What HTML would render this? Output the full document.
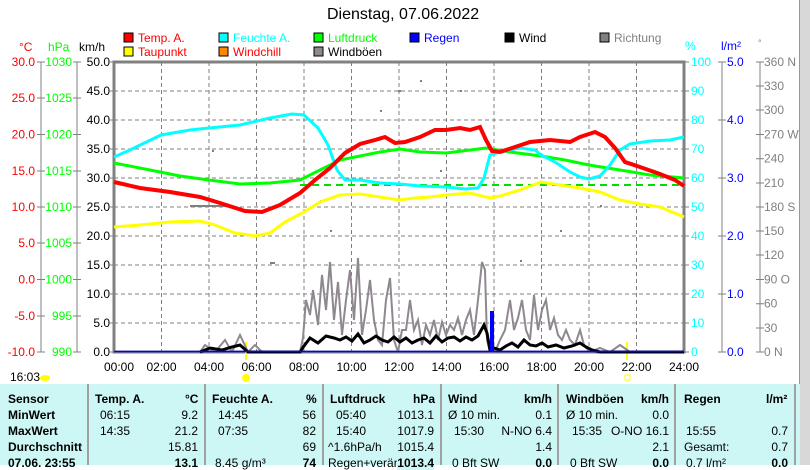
<!DOCTYPE html><html><head><meta charset="utf-8"><style>
body{margin:0;width:810px;height:465px;overflow:hidden;background:#fff;font-family:"Liberation Sans",sans-serif;position:relative}
.t{position:absolute;font-size:12px;white-space:nowrap}
.tb{position:absolute;left:0;top:384px;width:800px;height:81px;background:#cdf7f5}
.sep{position:absolute;top:384px;width:2px;height:81px;background:#a0a0a0}
.c{position:absolute;font-size:12px;white-space:nowrap}
.b{font-weight:bold}
</style></head><body>
<div class="t" style="left:327px;top:6px;font-size:16px">Dienstag, 07.06.2022</div>
<div style="position:absolute;left:799px;top:0;width:11px;height:465px;background:#d8d8d8;border-left:1px solid #999"></div>
<svg width="810" height="384" style="position:absolute;left:0;top:0" font-family="Liberation Sans" font-size="12">
<g stroke="#000" stroke-width="1">
<rect x="124" y="33" width="9" height="9" fill="#f00"/><rect x="124" y="47" width="9" height="9" fill="#ff0"/>
<rect x="219" y="33" width="9" height="9" fill="#0ff"/><rect x="219" y="47" width="9" height="9" fill="#f80"/>
<rect x="314" y="33" width="9" height="9" fill="#0f0"/><rect x="314" y="47" width="9" height="9" fill="#908890"/>
<rect x="410" y="33" width="9" height="9" fill="#00f"/><rect x="505" y="33" width="9" height="9" fill="#000"/>
<rect x="600" y="33" width="9" height="9" fill="#808080"/></g>
<text x="138" y="42" fill="#f00">Temp. A.</text><text x="138" y="56" fill="#f00">Taupunkt</text>
<text x="233" y="42" fill="#0ff">Feuchte A.</text><text x="233" y="56" fill="#f00">Windchill</text>
<text x="328" y="42" fill="#0f0">Luftdruck</text><text x="328" y="56">Windböen</text>
<text x="424" y="42" fill="#00f">Regen</text><text x="519" y="42">Wind</text><text x="614" y="42" fill="#808080">Richtung</text>
<text x="19" y="51" fill="#f00">°C</text><text x="48" y="51" fill="#0f0">hPa</text><text x="79" y="51">km/h</text>
<text x="685" y="50" fill="#0ff">%</text><text x="721" y="50" fill="#00f">l/m²</text><text x="758" y="46" fill="#808080" font-size="9">°</text>
<g stroke="#808080" stroke-dasharray="4,3" stroke-width="1">
<line x1="161.5" y1="62" x2="161.5" y2="352"/><line x1="209" y1="62" x2="209" y2="352"/><line x1="256.5" y1="62" x2="256.5" y2="352"/><line x1="304" y1="62" x2="304" y2="352"/><line x1="351.5" y1="62" x2="351.5" y2="352"/><line x1="399" y1="62" x2="399" y2="352"/><line x1="446.5" y1="62" x2="446.5" y2="352"/><line x1="494" y1="62" x2="494" y2="352"/><line x1="541.5" y1="62" x2="541.5" y2="352"/><line x1="589" y1="62" x2="589" y2="352"/><line x1="636.5" y1="62" x2="636.5" y2="352"/>
<line x1="114" y1="91" x2="684" y2="91"/><line x1="114" y1="120" x2="684" y2="120"/><line x1="114" y1="149" x2="684" y2="149"/><line x1="114" y1="178" x2="684" y2="178"/><line x1="114" y1="207" x2="684" y2="207"/><line x1="114" y1="236" x2="684" y2="236"/><line x1="114" y1="265" x2="684" y2="265"/><line x1="114" y1="294" x2="684" y2="294"/><line x1="114" y1="323" x2="684" y2="323"/>
</g>
<rect x="114" y="62" width="570" height="290" fill="none" stroke="#808080" stroke-width="3"/>
<g stroke="#808080"><line x1="41" y1="62" x2="41" y2="352"/><line x1="77" y1="62" x2="77" y2="352"/><line x1="722" y1="62" x2="722" y2="352"/><line x1="760" y1="62" x2="760" y2="352"/>
<path d="M37 62h8M37 98h8M37 134.5h8M37 171h8M37 207h8M37 243h8M37 279.5h8M37 316h8M37 352h8M73 62h8M73 98h8M73 134.5h8M73 171h8M73 207h8M73 243h8M73 279.5h8M73 316h8M73 352h8M110 62h4M110 91h4M110 120h4M110 149h4M110 178h4M110 207h4M110 236h4M110 265h4M110 294h4M110 323h4M110 352h4M684 62h5M684 91h5M684 120h5M684 149h5M684 178h5M684 207h5M684 236h5M684 265h5M684 294h5M684 323h5M684 352h5M718 62h8M718 120h8M718 178h8M718 236h8M718 294h8M718 352h8M756 62h8M756 86h8M756 110h8M756 134.5h8M756 158.7h8M756 183h8M756 207h8M756 231h8M756 255h8M756 279.5h8M756 303.7h8M756 328h8M756 352h8"/></g>
<g font-size="12" text-anchor="end">
<text x="35" y="66" fill="#f00">30.0</text><text x="35" y="102" fill="#f00">25.0</text><text x="35" y="138.5" fill="#f00">20.0</text><text x="35" y="175" fill="#f00">15.0</text><text x="35" y="211" fill="#f00">10.0</text><text x="35" y="247" fill="#f00">5.0</text><text x="35" y="283.5" fill="#f00">0.0</text><text x="35" y="320" fill="#f00">-5.0</text><text x="35" y="356" fill="#f00">-10.0</text>
<text x="72" y="66" fill="#0f0">1030</text><text x="72" y="102" fill="#0f0">1025</text><text x="72" y="138.5" fill="#0f0">1020</text><text x="72" y="175" fill="#0f0">1015</text><text x="72" y="211" fill="#0f0">1010</text><text x="72" y="247" fill="#0f0">1005</text><text x="72" y="283.5" fill="#0f0">1000</text><text x="72" y="320" fill="#0f0">995</text><text x="72" y="356" fill="#0f0">990</text>
<text x="110" y="66">50.0</text><text x="110" y="95">45.0</text><text x="110" y="124">40.0</text><text x="110" y="153">35.0</text><text x="110" y="182">30.0</text><text x="110" y="211">25.0</text><text x="110" y="240">20.0</text><text x="110" y="269">15.0</text><text x="110" y="298">10.0</text><text x="110" y="327">5.0</text><text x="110" y="356">0.0</text>
</g>
<g font-size="12" fill="#0ff"><text x="691" y="66">100</text><text x="691" y="95">90</text><text x="691" y="124">80</text><text x="691" y="153">70</text><text x="691" y="182">60</text><text x="691" y="211">50</text><text x="691" y="240">40</text><text x="691" y="269">30</text><text x="691" y="298">20</text><text x="691" y="327">10</text><text x="691" y="356">0</text></g>
<g font-size="12" fill="#00f"><text x="727" y="66">5.0</text><text x="727" y="124">4.0</text><text x="727" y="182">3.0</text><text x="727" y="240">2.0</text><text x="727" y="298">1.0</text><text x="727" y="356">0.0</text></g>
<g font-size="12" fill="#808080"><text x="764" y="66">360 N</text><text x="764" y="90">330</text><text x="764" y="114">300</text><text x="764" y="138.5">270 W</text><text x="764" y="162.7">240</text><text x="764" y="187">210</text><text x="764" y="211">180 S</text><text x="764" y="235">150</text><text x="764" y="259">120</text><text x="764" y="283.5">90  O</text><text x="764" y="307.7">60</text><text x="764" y="332">30</text><text x="764" y="356">0   N</text></g>
<g font-size="12" text-anchor="middle"><text x="119" y="371">00:00</text><text x="161.5" y="371">02:00</text><text x="209" y="371">04:00</text><text x="256.5" y="371">06:00</text><text x="304" y="371">08:00</text><text x="351.5" y="371">10:00</text><text x="399" y="371">12:00</text><text x="446.5" y="371">14:00</text><text x="494" y="371">16:00</text><text x="541.5" y="371">18:00</text><text x="589" y="371">20:00</text><text x="636.5" y="371">22:00</text><text x="684" y="371">24:00</text></g>
<text x="10" y="381" font-size="12">16:03</text><ellipse cx="45" cy="378" rx="5" ry="3" fill="#ff0"/>
<circle cx="246" cy="378" r="4" fill="#ff0"/><rect x="625" y="375" width="5" height="5" fill="none" stroke="#ff0"/>
<line x1="246" y1="342" x2="246" y2="360" stroke="#ff0" stroke-width="2"/><line x1="627" y1="342" x2="627" y2="360" stroke="#ff0" stroke-width="2"/>
<g fill="#808080"><rect x="190" y="205" width="40" height="2"/><rect x="398" y="90" width="3" height="2"/><rect x="420" y="80" width="2" height="2"/><rect x="440" y="170" width="2" height="2"/><rect x="330" y="230" width="2" height="2"/><rect x="270" y="262" width="5" height="2"/><rect x="520" y="260" width="2" height="2"/><rect x="560" y="230" width="2" height="2"/><rect x="600" y="205" width="2" height="2"/><rect x="380" y="110" width="2" height="2"/><rect x="460" y="90" width="2" height="2"/><rect x="320" y="200" width="2" height="2"/><rect x="212" y="150" width="2" height="2"/></g>
<line x1="300" y1="185" x2="684" y2="185" stroke="#0d0" stroke-width="2" stroke-dasharray="7,5"/>
<polyline fill="none" stroke="#908890" stroke-width="2" points="200,352 205,345 215,352 225,340 232,352 240,335 248,352 255,345 262,352 300,352 303,338 306,300 310,315 313,290 318,325 322,275 326,310 330,262 334,320 338,282 342,335 346,300 350,270 354,320 358,258 362,335 366,310 370,280 374,320 378,340 382,345 386,300 390,278 394,340 398,352 402,330 406,330 410,300 414,330 418,320 422,345 426,325 430,335 434,320 438,340 442,322 446,335 450,325 454,330 458,318 462,335 466,320 470,310 474,335 478,300 482,262 485,270 487,340 490,352 495,352 500,340 505,330 510,300 514,330 518,318 522,300 526,330 530,340 534,295 538,330 542,310 546,300 550,330 554,318 558,335 562,340 566,330 570,340 575,345 580,330 584,345 590,352 600,348 610,352 620,345 630,352 684,352"/>
<polyline fill="none" stroke="#000" stroke-width="3" points="200,352 210,348 222,350 232,347 240,345 248,352 300,352 304,346 310,338 318,343 326,336 334,338 340,340 346,337 352,341 358,334 364,343 370,340 376,336 382,340 388,342 394,337 400,342 406,338 412,343 418,340 424,338 430,343 436,336 442,342 448,338 454,337 460,341 466,337 472,340 478,336 484,325 487,333 490,350 494,348 500,350 506,346 512,343 518,347 524,340 530,345 536,346 542,343 548,347 556,345 564,348 572,346 580,343 586,347 592,350 600,352 684,352"/>
<rect x="490" y="311" width="4" height="41" fill="#00f"/>
<line x1="114" y1="351.5" x2="684" y2="351.5" stroke="#00f" stroke-width="1.5"/>
<polyline fill="none" stroke="#0f0" stroke-width="3" points="114,163 150,170 180,176 209,180 240,184 270,183 300,180 320,170 340,160 360,156 380,152 400,149 420,152 446,153 470,150 486,148 510,152 541,156 565,160 589,165 620,170 650,175 684,178"/>
<polyline fill="none" stroke="#0ff" stroke-width="3" points="114,157 130,150 161,135 190,130 209,128 240,125 270,118 292,114 304,115 318,128 328,145 337,170 345,180 360,180 380,183 400,184 420,186 446,187 465,189 478,188 484,178 490,155 500,152 520,148 535,150 541,155 555,162 570,172 580,177 589,179 600,176 610,165 620,150 630,144 650,141 670,140 684,137"/>
<polyline fill="none" stroke="#ff0" stroke-width="3" points="114,227 140,225 170,222 200,221 215,225 235,233 256,236 270,233 285,222 304,212 320,202 340,195 360,194 380,197 399,200 415,198 430,197 446,195 470,193 490,198 500,196 520,190 541,182 560,185 580,188 600,192 620,200 640,204 660,207 684,217"/>
<polyline fill="none" stroke="#f00" stroke-width="4" points="114,182 140,188 170,192 200,197 220,203 245,211 262,212 280,205 300,193 315,180 330,168 345,153 360,144 375,140 385,137 395,143 405,142 420,137 435,130 446,130 460,128 470,130 480,127 486,140 492,151 500,152 515,147 530,142 550,140 570,142 580,137 595,132 605,137 615,148 625,162 640,167 660,174 675,180 684,186"/>
</svg>
<div class="tb"></div>
<div class="sep" style="left:87px"></div><div class="sep" style="left:204px"></div><div class="sep" style="left:322px"></div><div class="sep" style="left:440px"></div><div class="sep" style="left:557px"></div><div class="sep" style="left:674px"></div><div class="sep" style="left:794px"></div>
<div class="c b" style="left:8px;top:392px">Sensor</div><div class="c b" style="left:8px;top:408px">MinWert</div><div class="c b" style="left:8px;top:424px">MaxWert</div><div class="c b" style="left:8px;top:440px">Durchschnitt</div><div class="c b" style="left:8px;top:456px">07.06. 23:55</div>
<div class="c b" style="left:95px;top:392px">Temp. A.</div><div class="c b" style="left:185px;top:392px">°C</div>
<div class="c" style="left:100px;top:408px">06:15</div><div class="c" style="left:100px;top:424px">14:35</div>
<div class="c" style="right:612px;top:408px">9.2</div><div class="c" style="right:612px;top:424px">21.2</div><div class="c" style="right:612px;top:440px">15.81</div><div class="c b" style="right:612px;top:456px">13.1</div>
<div class="c b" style="left:212px;top:392px">Feuchte A.</div><div class="c b" style="left:306px;top:392px">%</div>
<div class="c" style="left:218px;top:408px">14:45</div><div class="c" style="left:218px;top:424px">07:35</div><div class="c" style="left:215px;top:456px">8.45 g/m³</div>
<div class="c" style="right:494px;top:408px">56</div><div class="c" style="right:494px;top:424px">82</div><div class="c" style="right:494px;top:440px">69</div><div class="c b" style="right:494px;top:456px">74</div>
<div class="c b" style="left:330px;top:392px">Luftdruck</div><div class="c b" style="left:413px;top:392px">hPa</div>
<div class="c" style="left:336px;top:408px">05:40</div><div class="c" style="left:336px;top:424px">15:40</div><div class="c" style="left:328px;top:440px">^1.6hPa/h</div><div class="c" style="left:328px;top:456px">Regen+veränd.</div>
<div class="c" style="right:376px;top:408px">1013.1</div><div class="c" style="right:376px;top:424px">1017.9</div><div class="c" style="right:376px;top:440px">1015.4</div><div class="c b" style="right:376px;top:456px;background:#cdf7f5">1013.4</div>
<div class="c b" style="left:448px;top:392px">Wind</div><div class="c b" style="left:524px;top:392px">km/h</div>
<div class="c" style="left:448px;top:408px">Ø 10 min.</div><div class="c" style="left:454px;top:424px">15:30</div><div class="c" style="left:452px;top:456px">0 Bft SW</div>
<div class="c" style="right:258px;top:408px">0.1</div><div class="c" style="right:258px;top:424px">N-NO 6.4</div><div class="c" style="right:258px;top:440px">1.4</div><div class="c b" style="right:258px;top:456px">0.0</div>
<div class="c b" style="left:566px;top:392px">Windböen</div><div class="c b" style="left:641px;top:392px">km/h</div>
<div class="c" style="left:566px;top:408px">Ø 10 min.</div><div class="c" style="left:572px;top:424px">15:35</div><div class="c" style="left:570px;top:456px">0 Bft SW</div>
<div class="c" style="right:141px;top:408px">0.0</div><div class="c" style="right:141px;top:424px">O-NO 16.1</div><div class="c" style="right:141px;top:440px">2.1</div><div class="c b" style="right:141px;top:456px">0.0</div>
<div class="c b" style="left:684px;top:392px">Regen</div><div class="c b" style="left:766px;top:392px">l/m²</div>
<div class="c" style="left:686px;top:424px">15:55</div><div class="c" style="left:684px;top:440px">Gesamt:</div><div class="c" style="left:686px;top:456px">0.7 l/m²</div>
<div class="c" style="right:22px;top:424px">0.7</div><div class="c" style="right:22px;top:440px">0.7</div><div class="c b" style="right:22px;top:456px">0.0</div>
</body></html>
